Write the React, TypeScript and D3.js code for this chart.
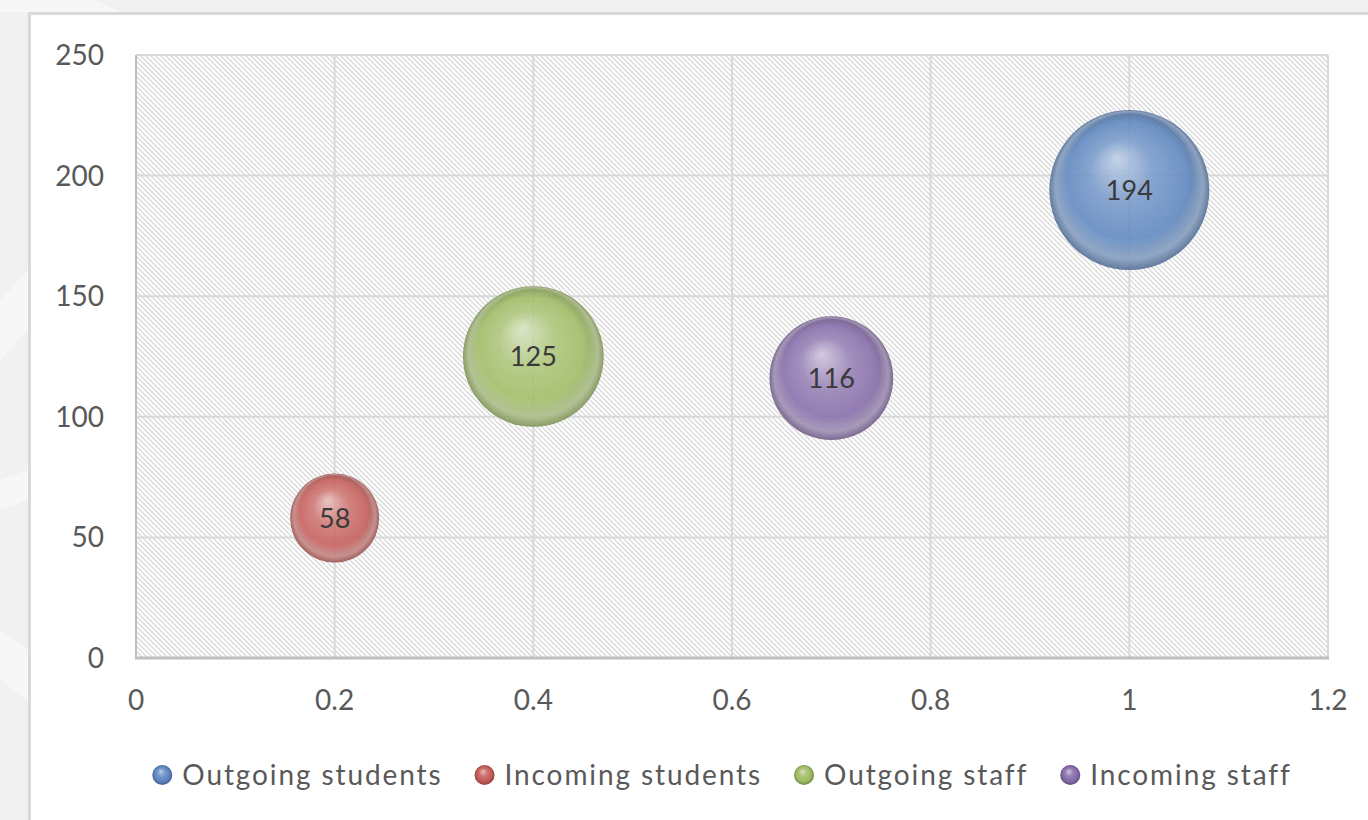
import React, { useEffect, useRef } from 'react';
import * as d3 from 'd3';

const seriesNames = ['Outgoing students', 'Incoming students', 'Outgoing staff', 'Incoming staff'];
const xValues = [1, 0.2, 0.4, 0.7];
const yValues = [194, 58, 125, 116];
const bubbleSizes = [194, 60, 150, 116];
const baseColors = ['#5b85bf', '#c45a56', '#9dbb61', '#8469a8'];
const xTicks = [0, 0.2, 0.4, 0.6, 0.8, 1, 1.2];
const yTicks = [0, 50, 100, 150, 200, 250];

const FONT = 'Lato, "Open Sans", sans-serif';

export default function App() {
  const ref = useRef<SVGSVGElement>(null);

  useEffect(() => {
    document.body.style.margin = '0';
    const svg = d3.select(ref.current);
    svg.selectAll('*').remove();

    const width = 1368;
    const height = 820;
    const plot = { left: 136, top: 55, right: 1328, bottom: 658 };

    const x = d3.scaleLinear().domain([0, 1.2]).range([plot.left, plot.right]);
    const y = d3.scaleLinear().domain([0, 250]).range([plot.bottom, plot.top]);
    const r = d3.scaleSqrt().domain([0, d3.max(bubbleSizes)!]).range([0, 80]);

    const defs = svg.append('defs');

    // hatch pattern for the plot area
    const pat = defs.append('pattern')
      .attr('id', 'hatch')
      .attr('patternUnits', 'userSpaceOnUse')
      .attr('width', 5)
      .attr('height', 5);
    pat.append('rect').attr('width', 5).attr('height', 5).attr('fill', '#ffffff');
    pat.append('path')
      .attr('d', 'M-1,-1 L6,6 M-1,4 L1,6 M4,-1 L6,1')
      .attr('stroke', '#d9d9d9')
      .attr('stroke-width', 1.3);

    // sphere gradients
    baseColors.forEach((c, i) => {
      const base = d3.color(c)!;
      const g = defs.append('radialGradient')
        .attr('id', `sph${i}`)
        .attr('cx', '0.5').attr('cy', '0.5').attr('r', '0.5')
        .attr('fx', '0.42').attr('fy', '0.3');
      g.append('stop').attr('offset', '0').attr('stop-color', d3.interpolateRgb(c, '#ffffff')(0.6));
      g.append('stop').attr('offset', '0.4').attr('stop-color', d3.interpolateRgb(c, '#ffffff')(0.15));
      g.append('stop').attr('offset', '0.75').attr('stop-color', base.formatHex());
      g.append('stop').attr('offset', '0.93').attr('stop-color', base.darker(0.6).formatHex());
      g.append('stop').attr('offset', '1').attr('stop-color', base.darker(0.9).formatHex());

      // soft light band along the bottom edge
      const refl = defs.append('radialGradient')
        .attr('id', `refl${i}`)
        .attr('cx', '0.5').attr('cy', '0.5').attr('r', '0.5')
        .attr('fx', '0.5').attr('fy', '0.12');
      refl.append('stop').attr('offset', '0.78').attr('stop-color', '#ffffff').attr('stop-opacity', 0);
      refl.append('stop').attr('offset', '0.92').attr('stop-color', '#ffffff').attr('stop-opacity', 0.3);
      refl.append('stop').attr('offset', '1').attr('stop-color', '#ffffff').attr('stop-opacity', 0.05);
    });

    // page background
    svg.append('rect').attr('width', width).attr('height', height).attr('fill', '#f1f1f1');
    svg.append('path').attr('d', 'M0,0 L95,0 L120,12 L0,12 Z').attr('fill', '#f7f7f7');
    svg.append('path').attr('d', 'M0,300 L28,270 L28,330 L0,360 Z').attr('fill', '#f7f7f7');
    svg.append('path').attr('d', 'M0,480 L28,470 L28,500 L0,510 Z').attr('fill', '#f7f7f7');
    svg.append('path').attr('d', 'M0,630 L28,650 L28,700 L0,680 Z').attr('fill', '#f7f7f7');

    // chart card
    svg.append('rect')
      .attr('x', 29.5).attr('y', 13.5)
      .attr('width', width + 20).attr('height', height + 20)
      .attr('fill', '#ffffff')
      .attr('stroke', '#d9d9d9')
      .attr('stroke-width', 3);

    // plot area
    svg.append('rect')
      .attr('x', plot.left).attr('y', plot.top)
      .attr('width', plot.right - plot.left).attr('height', plot.bottom - plot.top)
      .attr('fill', 'url(#hatch)');

    // gridlines
    svg.append('g').selectAll('line.h')
      .data(yTicks.filter(t => t > 0))
      .join('line')
      .attr('x1', plot.left).attr('x2', plot.right)
      .attr('y1', d => y(d)).attr('y2', d => y(d))
      .attr('stroke', '#d9d9d9').attr('stroke-width', 2);
    svg.append('g').selectAll('line.v')
      .data(xTicks.filter(t => t > 0))
      .join('line')
      .attr('x1', d => x(d)).attr('x2', d => x(d))
      .attr('y1', plot.top).attr('y2', plot.bottom)
      .attr('stroke', '#d9d9d9').attr('stroke-width', 2);

    // axes lines
    svg.append('line')
      .attr('x1', plot.left).attr('x2', plot.left)
      .attr('y1', plot.top).attr('y2', plot.bottom)
      .attr('stroke', '#bfbfbf').attr('stroke-width', 2);
    svg.append('line')
      .attr('x1', plot.left - 1).attr('x2', plot.right + 1)
      .attr('y1', plot.bottom).attr('y2', plot.bottom)
      .attr('stroke', '#bfbfbf').attr('stroke-width', 3);

    // tick labels
    svg.append('g').selectAll('text')
      .data(yTicks)
      .join('text')
      .attr('x', 104)
      .attr('y', d => y(d))
      .attr('dy', '0.36em')
      .attr('text-anchor', 'end')
      .attr('font-family', FONT)
      .attr('font-size', 28)
      .attr('fill', '#595959')
      .text(d => d);
    svg.append('g').selectAll('text')
      .data(xTicks)
      .join('text')
      .attr('x', d => x(d))
      .attr('y', 710)
      .attr('text-anchor', 'middle')
      .attr('font-family', FONT)
      .attr('font-size', 28)
      .attr('fill', '#595959')
      .text(d => d);

    // bubbles, largest first
    const order = d3.range(seriesNames.length).sort((a, b) => bubbleSizes[b] - bubbleSizes[a]);
    const bub = svg.append('g').selectAll('g')
      .data(order)
      .join('g')
      .attr('transform', i => `translate(${x(xValues[i])},${y(yValues[i])})`);
    bub.append('circle')
      .attr('r', i => r(bubbleSizes[i]))
      .attr('fill', i => `url(#sph${i})`)
      .attr('opacity', 0.86);
    bub.append('circle')
      .attr('r', i => r(bubbleSizes[i]))
      .attr('fill', i => `url(#refl${i})`);
    bub.append('text')
      .attr('dy', '0.36em')
      .attr('text-anchor', 'middle')
      .attr('font-family', FONT)
      .attr('font-size', 27)
      .attr('fill', '#3a3a3a')
      .text(i => yValues[i]);

    // legend
    const legend = svg.append('g');
    const items = legend.selectAll('g')
      .data(d3.range(seriesNames.length))
      .join('g');
    items.append('circle')
      .attr('r', 10)
      .attr('fill', i => `url(#sph${i})`);
    const texts = items.append('text')
      .attr('x', 20)
      .attr('dy', '0.36em')
      .attr('font-family', FONT)
      .attr('font-size', 28)
      .attr('letter-spacing', 1.9)
      .attr('fill', '#595959')
      .text(i => seriesNames[i]);
    const widths: number[] = [];
    texts.each(function () { widths.push((this as SVGTextElement).getComputedTextLength()); });
    const gap = 42;
    const total = d3.sum(widths) + widths.length * 20 + (widths.length - 1) * gap;
    let cx = 717 - total / 2 + 10;
    const starts: number[] = [];
    widths.forEach(w => { starts.push(cx); cx += 20 + w + gap; });
    items.attr('transform', i => `translate(${starts[i]},775)`);
  }, []);

  return <svg ref={ref} width={1368} height={820} style={{ display: 'block' }} />;
}
